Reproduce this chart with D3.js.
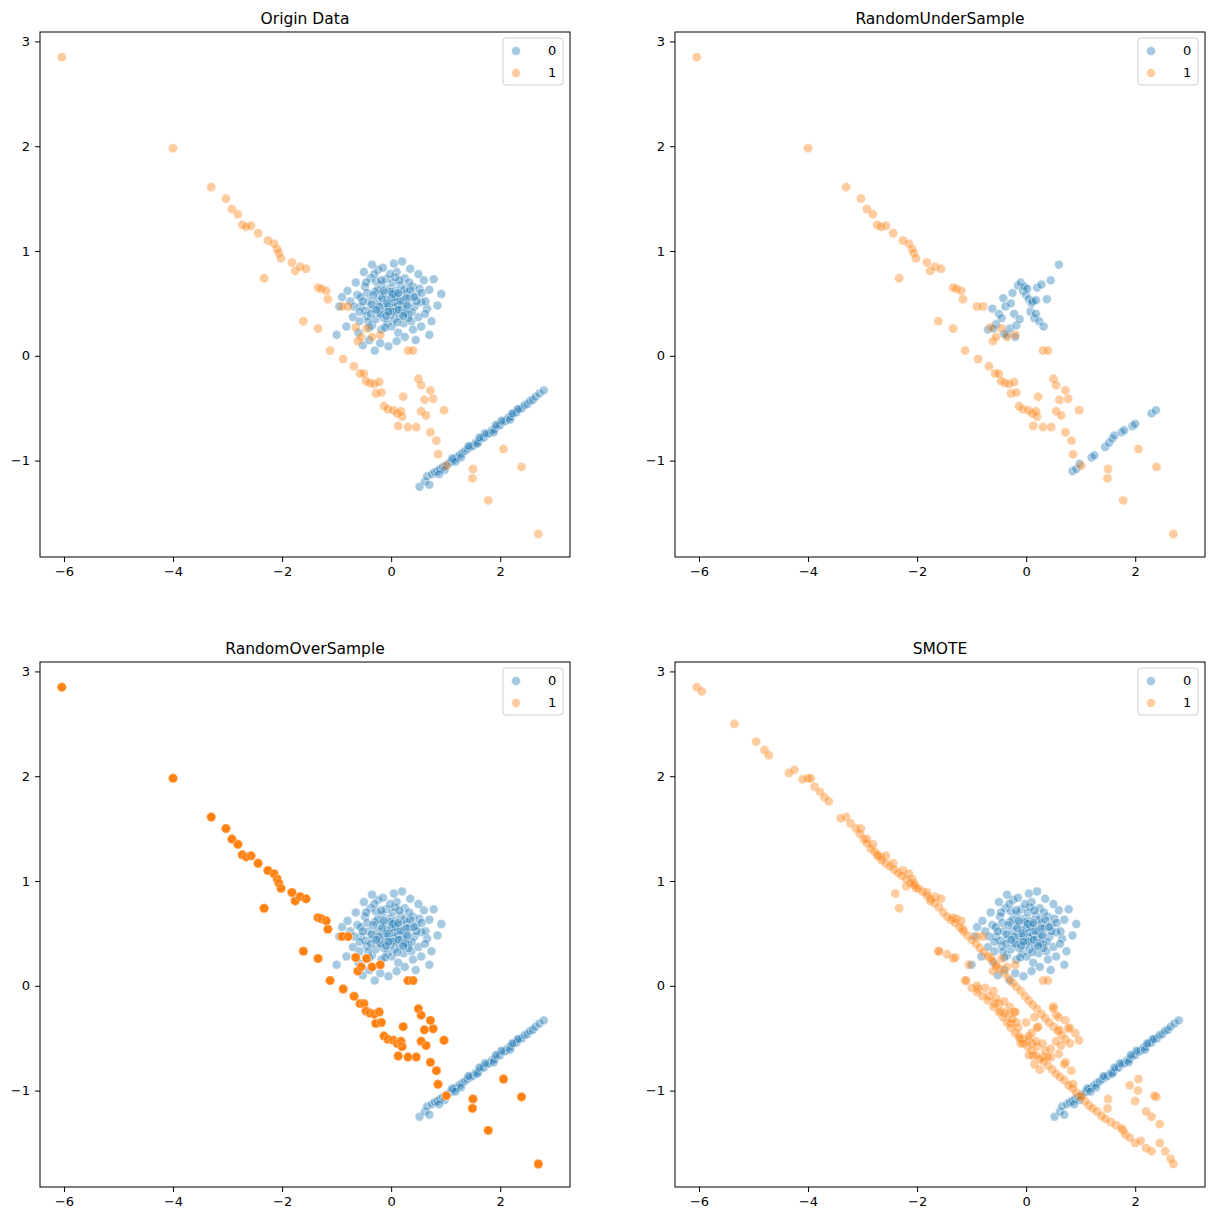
<!DOCTYPE html>
<html><head><meta charset="utf-8">
<script src="https://cdn.jsdelivr.net/npm/d3@7"></script>
<style>body{margin:0;background:#fff;font-family:"DejaVu Sans",sans-serif;}</style>
</head><body><div id="chart"></div>
<script>
// class 0 (blue) points of the origin data: blob + diagonal line
var blobBlue = [
[-0.62,0.58],[-0.55,0.47],[-0.48,0.66],[-0.45,0.38],[-0.41,0.52],[-0.38,0.74],[-0.35,0.29],[-0.33,0.45],[-0.30,0.61],[-0.28,0.35],
[-0.26,0.52],[-0.24,0.82],[-0.22,0.41],[-0.20,0.57],[-0.18,0.25],[-0.17,0.68],[-0.15,0.48],[-0.13,0.36],[-0.12,0.60],[-0.10,0.44],
[-0.09,0.73],[-0.07,0.31],[-0.06,0.53],[-0.04,0.47],[-0.03,0.64],[-0.02,0.39],[0.00,0.55],[0.01,0.28],[0.02,0.46],[0.03,0.70],
[0.05,0.51],[0.06,0.35],[0.08,0.62],[0.09,0.43],[0.10,0.80],[0.12,0.49],[0.13,0.22],[0.15,0.58],[0.16,0.38],[0.18,0.67],
[0.20,0.45],[0.21,0.53],[0.23,0.31],[0.25,0.74],[0.27,0.48],[0.29,0.60],[0.31,0.40],[0.34,0.55],[0.37,0.33],[0.40,0.66],
[0.43,0.47],[0.46,0.58],[0.50,0.37],[0.55,0.51],[0.60,0.72],[0.66,0.45],[0.74,0.33],[0.92,0.59],[0.70,0.63],[0.78,0.73],
[-0.70,0.37],[-0.75,0.52],[-0.82,0.28],[-0.95,0.47],[-1.00,0.20],[-0.90,0.56],[-0.60,0.22],[-0.52,0.10],[-0.40,0.15],[-0.30,0.05],
[-0.20,0.12],[-0.05,0.09],[0.10,0.14],[0.25,0.18],[0.40,0.25],[0.55,0.28],[0.45,0.15],[0.70,0.20],[-0.50,0.80],[-0.35,0.87],
[-0.15,0.84],[0.05,0.88],[0.20,0.90],[0.35,0.83],[0.50,0.78],[-0.65,0.70],[-0.80,0.62],[-0.58,0.33],[-0.44,0.60],[-0.28,0.71],
[-0.11,0.27],[0.07,0.75],[0.24,0.63],[0.38,0.42],[0.52,0.64],[-0.36,0.49],[-0.19,0.40],[-0.01,0.61],[0.17,0.52],[0.32,0.36],
[-0.47,0.43],[-0.25,0.63],[-0.08,0.50],[0.11,0.32],[0.28,0.55],[0.47,0.52],[0.62,0.40],[-0.68,0.47],[0.85,0.48],[-0.56,0.56],
[-0.33,0.58],[-0.16,0.55],[0.04,0.42],[0.14,0.44],[-0.22,0.47],[0.26,0.41],[-0.09,0.38],[0.08,0.56],[-0.42,0.33],[0.35,0.63],
[-0.52,0.52],[-0.37,0.40],[-0.27,0.44],[-0.14,0.62],[-0.05,0.42],[0.03,0.59],[0.13,0.60],[0.22,0.38],[0.30,0.48],[0.42,0.56],
[-0.46,0.70],[-0.31,0.78],[-0.18,0.72],[-0.02,0.78],[0.15,0.72],[0.33,0.70],[-0.58,0.42],[0.56,0.60],[0.63,0.52],[-0.40,0.27]
];
var lineBlue = [
[0.52,-1.25],[0.62,-1.20],[0.66,-1.15],[0.70,-1.23],[0.75,-1.13],[0.80,-1.11],[0.85,-1.10],[0.90,-1.08],[0.95,-1.06],[1.00,-1.05],
[1.05,-1.03],[1.10,-1.01],[1.15,-0.99],[1.20,-0.97],[1.25,-0.95],[1.30,-0.93],[1.35,-0.91],[1.40,-0.89],[1.45,-0.87],[1.50,-0.86],
[1.55,-0.83],[1.60,-0.82],[1.65,-0.79],[1.70,-0.78],[1.75,-0.75],[1.80,-0.74],[1.85,-0.71],[1.90,-0.70],[1.95,-0.67],[2.00,-0.66],
[2.05,-0.63],[2.10,-0.62],[2.15,-0.59],[2.20,-0.58],[2.25,-0.55],[2.30,-0.54],[2.35,-0.51],[2.40,-0.50],[2.45,-0.47],[2.50,-0.46],
[2.55,-0.43],[2.60,-0.42],[2.65,-0.39],[2.72,-0.36],[2.80,-0.33],[1.12,-0.98],[1.42,-0.86],[1.72,-0.74],[2.02,-0.62],[2.32,-0.51],
[0.98,-1.09],[1.28,-0.97],[1.58,-0.84],[1.88,-0.73],[2.18,-0.61],[1.62,-0.78],[1.92,-0.66],[2.22,-0.55],[0.88,-1.13],[1.18,-1.01]
];
// class 1 (orange) points of the origin data
var orangeOrig = [
[-6.04,2.85],[-4.00,1.98],[-3.30,1.61],[-3.03,1.50],[-2.92,1.40],[-2.81,1.35],[-2.73,1.25],[-2.66,1.23],[-2.57,1.24],[-2.44,1.17],
[-2.33,0.74],[-2.26,1.10],[-2.15,1.07],[-2.09,1.02],[-2.06,0.98],[-2.02,0.93],[-1.82,0.89],[-1.76,0.81],[-1.67,0.85],[-1.56,0.83],
[-1.61,0.33],[-1.34,0.65],[-1.28,0.64],[-1.19,0.62],[-1.16,0.54],[-1.34,0.26],[-1.12,0.05],[-0.90,0.47],[-0.88,-0.03],[-0.79,0.47],
[-0.68,-0.10],[-0.61,0.14],[-0.57,-0.17],[-0.50,-0.17],[-0.46,-0.24],[-0.39,-0.26],[-0.31,-0.27],[-0.22,-0.25],[-0.28,-0.36],[-0.18,-0.35],
[-0.13,-0.48],[-0.06,-0.51],[0.04,-0.52],[0.11,-0.55],[0.13,-0.67],[0.18,-0.53],[0.20,-0.58],[0.22,-0.39],[0.31,0.05],[0.40,0.05],
[0.31,-0.68],[0.46,-0.68],[0.55,-0.53],[0.50,-0.22],[0.61,-0.42],[0.64,-0.57],[0.72,-0.73],[0.77,-0.41],[0.83,-0.81],[0.86,-0.94],
[0.97,-0.52],[1.01,-1.05],[0.72,-0.33],[0.55,-0.28],[1.50,-1.08],[1.49,-1.17],[2.06,-0.89],[2.39,-1.06],[1.78,-1.38],[2.70,-1.70],
[-0.65,0.27],[-0.45,0.26],[-0.35,0.18],[-0.20,0.20],[-0.55,0.18]
];
// class 0 kept by random under-sampling
var underBlue = [
[-0.70,0.25],[-0.62,0.45],[-0.55,0.30],[-0.50,0.40],[-0.45,0.36],[-0.42,0.55],[-0.38,0.47],[-0.35,0.20],[-0.30,0.26],[-0.28,0.50],
[-0.25,0.60],[-0.22,0.40],[-0.20,0.18],[-0.18,0.29],[-0.15,0.67],[-0.12,0.35],[-0.10,0.70],[-0.06,0.62],[-0.03,0.66],[0.00,0.58],
[0.02,0.64],[0.05,0.54],[0.08,0.42],[0.10,0.50],[0.12,0.52],[0.15,0.36],[0.18,0.40],[0.20,0.65],[0.24,0.33],[0.28,0.68],[0.32,0.28],
[0.38,0.54],[0.45,0.72],[0.60,0.87],[-0.40,0.21],[0.18,0.53],[-0.60,0.26],
[0.85,-1.10],[0.92,-1.08],[0.98,-1.03],[1.20,-0.97],[1.25,-0.95],[1.45,-0.87],[1.52,-0.83],[1.58,-0.79],[1.62,-0.76],[1.75,-0.73],
[1.80,-0.71],[1.95,-0.67],[2.00,-0.65],[2.30,-0.55],[2.38,-0.52]
];
// synthetic SMOTE points of class 1
var smoteOrange = [
[-5.95,2.81],[-5.35,2.50],[-4.95,2.33],[-4.80,2.25],[-4.72,2.20],[-4.35,2.03],[-4.25,2.06],[-4.10,1.97],[-3.95,1.98],[-3.88,1.90],
[-3.78,1.85],[-3.70,1.80],[-3.62,1.76],[-3.40,1.60],[-3.22,1.55],[-3.12,1.50],[-3.05,1.45],[-2.98,1.40],[-2.92,1.36],[-2.85,1.31],
[-2.78,1.28],[-2.72,1.24],[-2.65,1.20],[-2.58,1.17],[-2.50,1.14],[-2.42,1.11],[-2.35,1.08],[-2.28,1.05],[-2.20,1.02],[-2.12,0.98],
[-2.05,0.96],[-1.98,0.93],[-1.90,0.90],[-1.82,0.86],[-1.75,0.83],[-1.68,0.79],[-1.60,0.75],[-1.52,0.70],[-1.45,0.66],[-1.38,0.63],
[-1.30,0.60],[-1.22,0.56],[-1.15,0.52],[-1.08,0.48],[-1.00,0.44],[-0.92,0.40],[-0.85,0.36],[-0.78,0.32],[-0.70,0.28],[-0.62,0.24],
[-0.55,0.20],[-0.48,0.16],[-0.40,0.12],[-0.32,0.07],[-0.25,0.03],[-0.18,-0.01],[-0.10,-0.05],[-0.02,-0.10],[0.05,-0.14],[0.12,-0.18],
[0.20,-0.22],[0.28,-0.27],[0.35,-0.31],[0.42,-0.35],[0.50,-0.39],[0.58,-0.43],[0.65,-0.47],[0.72,-0.51],[0.80,-0.55],
[-2.40,0.88],[-2.20,0.95],[-1.60,0.33],[-1.45,0.30],[-1.30,0.27],[-1.05,0.20],[-0.90,0.00],
[-1.10,0.05],[-1.00,-0.02],[-0.90,-0.06],[-0.80,-0.10],[-0.70,-0.14],[-0.60,-0.20],[-0.50,-0.25],[-0.42,-0.30],[-0.35,-0.35],[-0.28,-0.40],
[-0.20,-0.45],[-0.12,-0.50],[-0.05,-0.55],[0.02,-0.58],[0.10,-0.62],[0.18,-0.66],[0.25,-0.70],[0.32,-0.72],[0.40,-0.76],[0.48,-0.80],
[0.55,-0.84],[0.62,-0.87],[0.70,-0.90],[0.78,-0.95],[0.85,-0.98],[0.92,-1.02],[1.00,-1.06],[1.08,-1.10],[1.15,-1.14],[1.22,-1.17],
[1.30,-1.20],[1.38,-1.24],[1.45,-1.27],[1.55,-1.30],[1.65,-1.33],[1.75,-1.36],[1.82,-1.42],[1.90,-1.45],[2.00,-1.50],[2.10,-1.48],
[2.20,-1.55],[2.30,-1.58],[2.45,-1.50],[2.55,-1.58],[2.65,-1.65],[2.30,-1.25],[2.45,-1.32],[2.20,-1.20],[2.35,-1.05],[2.00,-1.10],
[1.90,-0.95],[2.05,-1.00],[-0.60,-0.05],[-0.40,-0.15],[-0.20,-0.25],[0.00,-0.35],[0.10,-0.45],[0.30,-0.55],[0.20,-0.40],[0.45,-0.60],
[0.60,-0.65],[0.70,-0.75],[0.15,-0.75],[-0.10,-0.55],[-0.30,-0.20],[0.50,-0.20],[0.60,-0.30],[0.80,-0.40],[0.90,-0.45],
[-0.75,-0.02],[-0.55,-0.12],[-0.25,-0.32],[0.05,-0.48],[0.35,-0.62],[0.05,-0.66],[0.25,-0.80],[0.40,-0.68],[-0.15,-0.40],[0.15,-0.30]
];
var titles = ["Origin Data", "RandomUnderSample", "RandomOverSample", "SMOTE"];
var xTicks = [-6, -4, -2, 0, 2];
var yTicks = [-1, 0, 1, 2, 3];
var overSampleCopies = 8;

var blue = "#1f77b4", orange = "#ff7f0e";
var svg = d3.select("#chart").append("svg").attr("width", 1212).attr("height", 1221);

var panels = [
  {x: 40, y: 32, blue: blobBlue.concat(lineBlue), orange: orangeOrig, copies: 1},
  {x: 675, y: 32, blue: underBlue, orange: orangeOrig, copies: 1},
  {x: 40, y: 662, blue: blobBlue.concat(lineBlue), orange: orangeOrig, copies: overSampleCopies},
  {x: 675, y: 662, blue: blobBlue.concat(lineBlue), orange: orangeOrig.concat(smoteOrange), copies: 1}
];
var W = 530, H = 525;
var fmt = d => (d < 0 ? "\u2212" : "") + Math.abs(d);

panels.forEach(function(p, i) {
  var g = svg.append("g").attr("transform", "translate(" + p.x + "," + p.y + ")");
  var x = d3.scaleLinear().domain([-6.44, 3.28]).range([0, W]);
  var y = d3.scaleLinear().domain([-1.92, 3.09]).range([H, 0]);

  g.append("g").selectAll("circle").data(p.blue).join("circle")
    .attr("cx", d => x(d[0])).attr("cy", d => y(d[1])).attr("r", 4.5)
    .attr("fill", blue).attr("fill-opacity", 0.4).attr("stroke", "#fff").attr("stroke-width", 0.5);
  for (var c = 0; c < p.copies; c++) {
    g.append("g").selectAll("circle").data(p.orange).join("circle")
      .attr("cx", d => x(d[0])).attr("cy", d => y(d[1])).attr("r", 4.5)
      .attr("fill", orange).attr("fill-opacity", 0.4).attr("stroke", "#fff").attr("stroke-width", 0.5).attr("stroke-opacity", 0.4);
  }

  g.append("rect").attr("width", W).attr("height", H).attr("fill", "none").attr("stroke", "#000").attr("stroke-width", 1);
  var xa = g.append("g").attr("transform", "translate(0," + H + ")")
    .call(d3.axisBottom(x).tickValues(xTicks).tickFormat(fmt).tickSize(5).tickPadding(5));
  var ya = g.append("g").call(d3.axisLeft(y).tickValues(yTicks).tickFormat(fmt).tickSize(5).tickPadding(5));
  [xa, ya].forEach(function(a) {
    a.select(".domain").remove();
    a.selectAll("text").attr("font-family", "DejaVu Sans").attr("font-size", 13).attr("fill", "#000");
  });

  g.append("text").attr("x", W / 2).attr("y", -8).attr("text-anchor", "middle")
    .attr("font-size", 15.5).attr("font-family", "DejaVu Sans").text(titles[i]);

  // legend
  var lg = g.append("g").attr("transform", "translate(" + (W - 67) + ",6)");
  lg.append("rect").attr("width", 60).attr("height", 47).attr("rx", 3)
    .attr("fill", "#fff").attr("fill-opacity", 0.8).attr("stroke", "#ccc");
  [["0", blue], ["1", orange]].forEach(function(e, k) {
    lg.append("circle").attr("cx", 13).attr("cy", 13 + k * 22).attr("r", 4.5)
      .attr("fill", e[1]).attr("fill-opacity", 0.4).attr("stroke", "#fff").attr("stroke-width", 0.5);
    lg.append("text").attr("x", 45).attr("y", 17 + k * 22).attr("font-size", 13)
      .attr("font-family", "DejaVu Sans").text(e[0]);
  });
});
</script></body></html>
